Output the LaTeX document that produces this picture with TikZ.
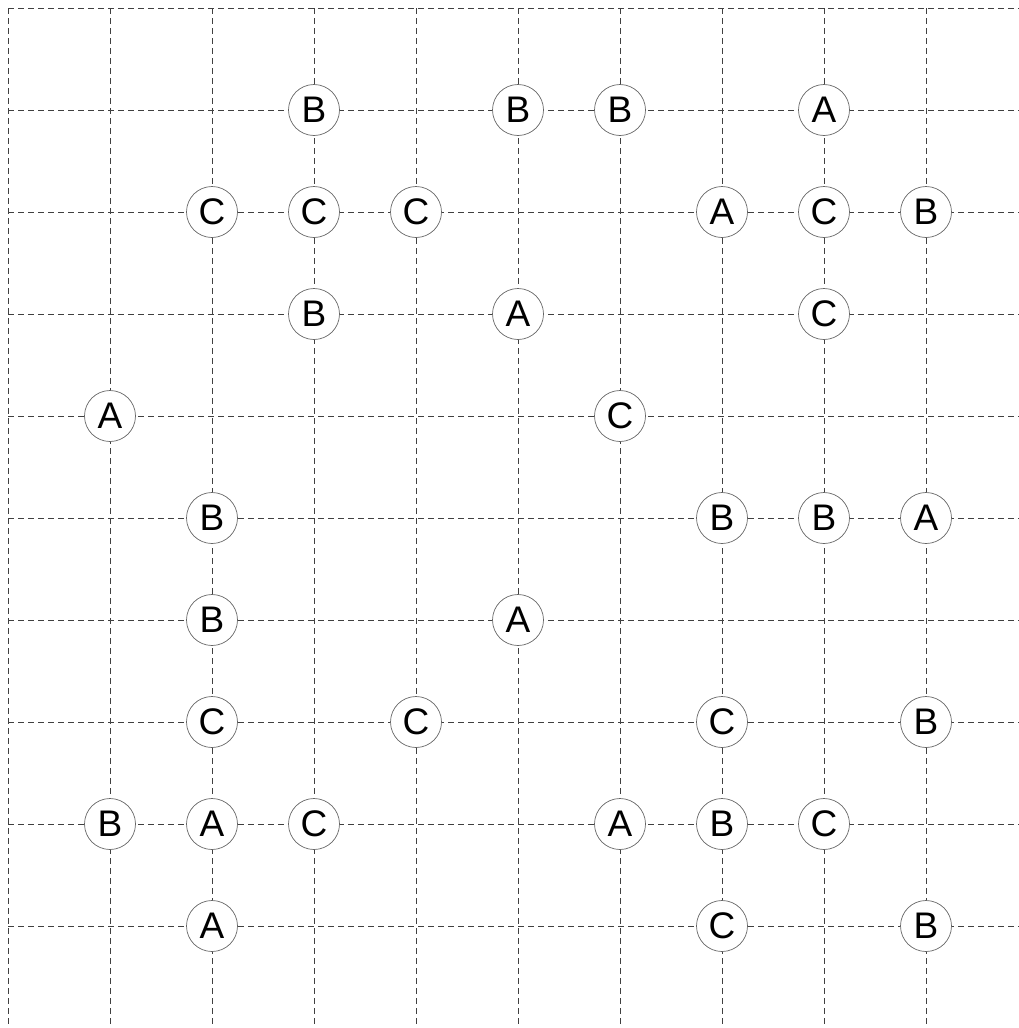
\documentclass[tikz,border=0pt]{standalone}
\usepackage{fontspec}
\setmainfont{Liberation Sans}
\begin{document}
\begin{tikzpicture}[x=1pt,y=-1pt,
  gridline/.style={line width=1pt,black!75,dash pattern=on 6pt off 4pt},
  cell/.style={circle,draw=black!60,line width=0.7pt,fill=white,minimum size=51pt,inner sep=0pt,font=\fontsize{37}{37}\selectfont}]
\useasboundingbox (0,0) rectangle (1019,1028);
\foreach \k in {0,...,9}{
  \draw[gridline] (8+102*\k,8) -- (8+102*\k,1028);
  \draw[gridline] (8,8+102*\k) -- (1019,8+102*\k);
}
\foreach \i/\j/\t [count=\n] in {
  3/1/B,5/1/B,6/1/B,8/1/A,
  2/2/C,3/2/C,4/2/C,7/2/A,8/2/C,9/2/B,
  3/3/B,5/3/A,8/3/C,
  1/4/A,6/4/C,
  2/5/B,7/5/B,8/5/B,9/5/A,
  2/6/B,5/6/A,
  2/7/C,4/7/C,7/7/C,9/7/B,
  1/8/B,2/8/A,3/8/C,6/8/A,7/8/B,8/8/C,
  2/9/A,7/9/C,9/9/B}{
  \node[cell] (n\n) at (8+102*\i,8+102*\j) {\t};
}
\end{tikzpicture}
\end{document}
